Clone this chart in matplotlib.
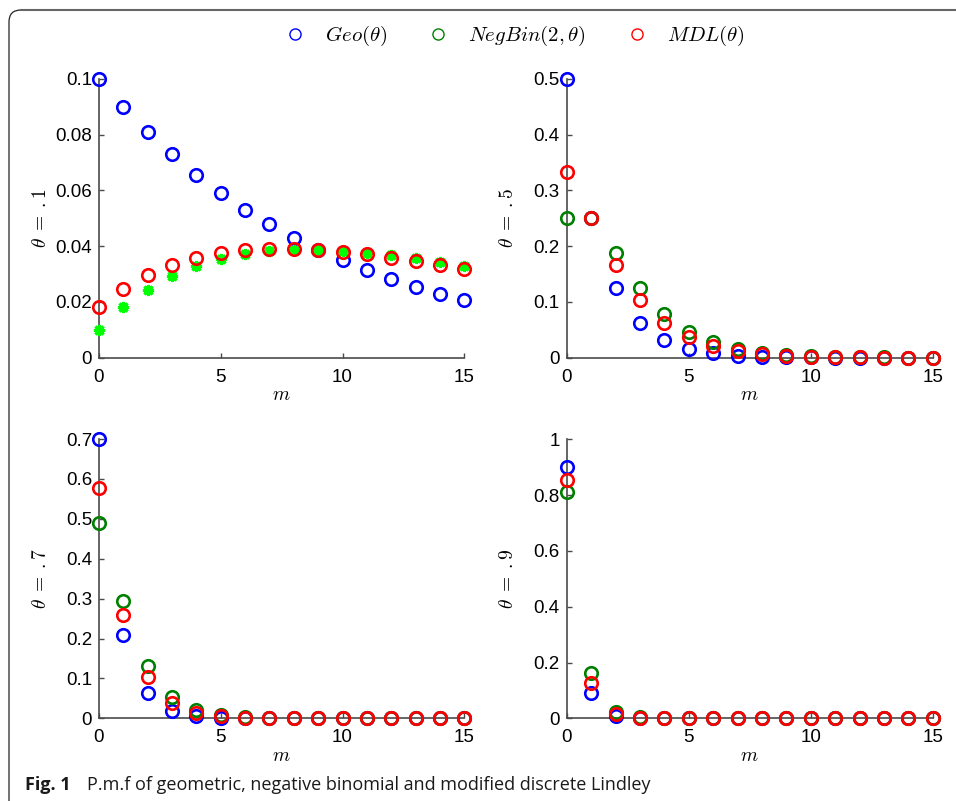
import matplotlib
matplotlib.use("Agg")
import matplotlib.pyplot as plt
from matplotlib.lines import Line2D
from matplotlib.path import Path
from matplotlib.patches import PathPatch
from matplotlib.ticker import FormatStrFormatter

# -----------------------------------------------------------------------------
# DATA: p.m.f values for m = 0..15
# -----------------------------------------------------------------------------
m_vals = list(range(16))

geo_01 = [0.1, 0.09, 0.081, 0.0729, 0.0656, 0.0590, 0.0531, 0.0478,
          0.0430, 0.0387, 0.0349, 0.0314, 0.0282, 0.0254, 0.0229, 0.0206]
nb_01 = [0.0100, 0.0180, 0.0243, 0.0292, 0.0328, 0.0354, 0.0372, 0.0383,
         0.0387, 0.0387, 0.0384, 0.0377, 0.0367, 0.0356, 0.0343, 0.0329]
mdl_01 = [0.0182, 0.0245, 0.0295, 0.0331, 0.0358, 0.0376, 0.0387, 0.0391,
          0.0391, 0.0387, 0.0380, 0.0371, 0.0359, 0.0347, 0.0333, 0.0318]

geo_05 = [0.5, 0.25, 0.125, 0.0625, 0.0313, 0.0156, 0.0078, 0.0039,
          0.0020, 0.0010, 0.0005, 0.0002, 0.0001, 0.0001, 0.0, 0.0]
nb_05 = [0.25, 0.25, 0.1875, 0.125, 0.0781, 0.0469, 0.0273, 0.0156,
         0.0088, 0.0049, 0.0027, 0.0015, 0.0008, 0.0004, 0.0002, 0.0001]
mdl_05 = [0.3333, 0.25, 0.1667, 0.1042, 0.0625, 0.0365, 0.0208, 0.0117,
          0.0065, 0.0036, 0.0020, 0.0011, 0.0006, 0.0003, 0.0002, 0.0001]

geo_07 = [0.7, 0.21, 0.063, 0.0189, 0.0057, 0.0017, 0.0005, 0.0002,
          0.0, 0.0, 0.0, 0.0, 0.0, 0.0, 0.0, 0.0]
nb_07 = [0.49, 0.294, 0.1323, 0.0529, 0.0198, 0.0071, 0.0025, 0.0009,
         0.0003, 0.0001, 0.0, 0.0, 0.0, 0.0, 0.0, 0.0]
mdl_07 = [0.5765, 0.2594, 0.1038, 0.0389, 0.0140, 0.0049, 0.0017, 0.0006,
          0.0002, 0.0001, 0.0, 0.0, 0.0, 0.0, 0.0, 0.0]

geo_09 = [0.9, 0.09, 0.009, 0.0009, 0.0001, 0.0, 0.0, 0.0,
          0.0, 0.0, 0.0, 0.0, 0.0, 0.0, 0.0, 0.0]
nb_09 = [0.81, 0.162, 0.0243, 0.0032, 0.0004, 0.0001, 0.0, 0.0,
         0.0, 0.0, 0.0, 0.0, 0.0, 0.0, 0.0, 0.0]
mdl_09 = [0.8526, 0.1279, 0.0171, 0.0021, 0.0003, 0.0, 0.0, 0.0,
          0.0, 0.0, 0.0, 0.0, 0.0, 0.0, 0.0, 0.0]

theta_labels = [r"$\theta\;=\;.1$", r"$\theta\;=\;.5$",
                r"$\theta\;=\;.7$", r"$\theta\;=\;.9$"]
y_limits = [0.1, 0.5, 0.7, 1.0]
y_steps = [0.02, 0.1, 0.1, 0.2]
legend_labels = [r"$Geo(\theta)$", r"$NegBin(2,\theta)$", r"$MDL(\theta)$"]

# -----------------------------------------------------------------------------
# STYLE
# -----------------------------------------------------------------------------
_BLUE = "#0000ff"
_GREEN = "#008000"
_LIME = "#00ff00"
_RED = "#ff0000"
_AXIS = "#4a4a4a"

W, H = 956, 801

plt.rcParams.update({
    "font.family": "Liberation Sans",
    "font.size": 13.5,
    "mathtext.fontset": "cm",
})


def _fx(x):
    return x / W


def _fy(y):
    return 1 - y / H


fig = plt.figure(figsize=(W / 100, H / 100), dpi=100)

# axes boxes in pixels: (left, right, top, bottom)
boxes = [(99, 464.3, 78.7, 357.7), (566.7, 932.7, 78.7, 357.7),
         (99, 464.3, 439.0, 718.3), (566.7, 932.7, 439.3, 718.3)]

panels = [(geo_01, nb_01, mdl_01), (geo_05, nb_05, mdl_05),
          (geo_07, nb_07, mdl_07), (geo_09, nb_09, mdl_09)]

circle = dict(ls="none", marker="o", markersize=9, mew=1.9,
              markerfacecolor="none", clip_on=False)

for i, (geo, nb, mdl) in enumerate(panels):
    l, r, t, b = boxes[i]
    ax = fig.add_axes([_fx(l), _fy(b), _fx(r - l), (b - t) / H])

    ax.plot(m_vals, geo, color=_BLUE, markeredgecolor=_BLUE, zorder=3, **circle)
    if i == 0:
        # negative binomial drawn as asterisks in the first panel
        ax.plot(m_vals, nb, ls="none", marker=(8, 2, 0), markersize=8,
                mew=2.2, color=_LIME, clip_on=False, zorder=4)
    else:
        ax.plot(m_vals, nb, color=_GREEN, markeredgecolor=_GREEN, zorder=4,
                **circle)
    ax.plot(m_vals, mdl, color=_RED, markeredgecolor=_RED, zorder=5, **circle)

    ax.set_xlim(0, 15)
    ax.set_ylim(0, y_limits[i])
    ax.set_xticks([0, 5, 10, 15])
    n_ticks = int(round(y_limits[i] / y_steps[i]))
    ax.set_yticks([k * y_steps[i] for k in range(n_ticks + 1)])
    ax.yaxis.set_major_formatter(FormatStrFormatter("%g"))

    for side in ("top", "right"):
        ax.spines[side].set_visible(False)
    for side in ("left", "bottom"):
        ax.spines[side].set_color(_AXIS)
        ax.spines[side].set_linewidth(1.2)
    ax.tick_params(direction="in", length=3.5, width=1.0, color=_AXIS,
                   labelsize=13.5)
    ax.tick_params(axis="x", pad=8)
    ax.tick_params(axis="y", pad=5)

    ax.set_xlabel(r"$m$", fontsize=14)
    ax.xaxis.set_label_coords(0.5, -0.105)
    ax.set_ylabel(theta_labels[i], fontsize=14)
    ax.yaxis.set_label_coords(-0.135, 0.5)
    ax.patch.set_visible(False)

# -- Legend -------------------------------------------------------------------
handles = [
    Line2D([], [], ls="none", marker="o", markersize=8, mew=1.0,
           markerfacecolor="none", markeredgecolor=c)
    for c in (_BLUE, _GREEN, _RED)
]
fig.legend(handles, legend_labels, loc="center", ncol=3, frameon=False,
           bbox_to_anchor=(_fx(514.5), _fy(36)), fontsize=15,
           handlelength=1.0, handletextpad=0.95, columnspacing=1.95)

# -- Figure frame (rounded top-left corner) ----------------------------------
corner = Path([(_fx(9), _fy(801)), (_fx(9), _fy(22)), (_fx(9), _fy(10)),
               (_fx(21), _fy(10))],
              [Path.MOVETO, Path.LINETO, Path.CURVE3, Path.CURVE3])
fig.add_artist(PathPatch(corner, transform=fig.transFigure, fill=False,
                         edgecolor="#222222", lw=0.9))
fig.add_artist(Line2D([_fx(21), 1.0], [_fy(10), _fy(10)],
                      transform=fig.transFigure, color="#666666", lw=1.5))

# -- Caption --------------------------------------------------------------------
fig.text(_fx(25), _fy(785), "Fig. 1", fontsize=13, fontweight="bold",
         family="Open Sans", va="center", color="#1a1a1a")
fig.text(_fx(87), _fy(785),
         "P.m.f of geometric, negative binomial and modified discrete Lindley",
         fontsize=13, family="Open Sans", va="center", color="#1a1a1a")

fig.savefig("out.png", dpi=100, facecolor="white")
